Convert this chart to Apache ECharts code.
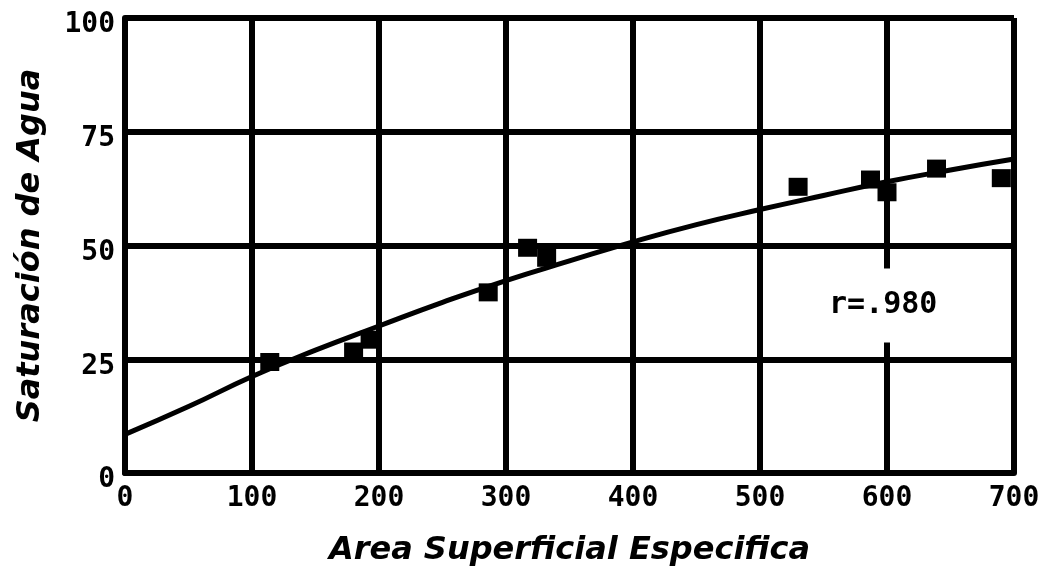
<!DOCTYPE html>
<html><head><meta charset="utf-8">
<script src="https://cdn.jsdelivr.net/npm/echarts@6/dist/echarts.min.js"></script>
<style>html,body{margin:0;padding:0;background:#fff}#c{width:1050px;height:567px}</style>
</head><body><div id="c"></div>
<script>
// tick values
const xTicks = [0, 100, 200, 300, 400, 500, 600, 700];
const yTicks = [0, 25, 50, 75, 100];
// measured points (Area Superficial Especifica, Saturación de Agua)
const pointsX = [114, 180, 193, 286, 317, 332, 530, 587, 600, 639, 690];
const pointsY = [24.4, 26.7, 29.3, 39.7, 49.5, 47.3, 62.9, 64.5, 61.7, 66.9, 64.8];
// fitted curve
const fitX = [0, 50, 100, 150, 200, 250, 300, 350, 400, 450, 500, 550, 600, 650, 700];
const fitY = [8.5, 14.6, 21.2, 27.0, 32.3, 37.5, 42.3, 46.6, 50.8, 54.6, 57.9, 61.0, 64.0, 66.6, 69.0];
// annotation
const noteText = 'r=.980';
const noteX = 597;
const noteY = 36.8;

const chart = echarts.init(document.getElementById('c'), null, {renderer: 'canvas'});
const tickFont = {fontFamily: 'DejaVu Sans Mono', fontWeight: 'bold', fontSize: 28, color: '#000'};
const titleFont = {fontFamily: 'DejaVu Sans', fontWeight: 'bold', fontStyle: 'italic', fontSize: 32, color: '#000'};
const gridLine = {lineStyle: {color: '#000', width: 6}};

chart.setOption({
  backgroundColor: '#fff',
  animation: false,
  grid: {left: 125, right: 36, top: 18, bottom: 94, containLabel: false, outerBoundsMode: 'none'},
  xAxis: {
    type: 'value', min: xTicks[0], max: xTicks[xTicks.length - 1], interval: xTicks[1] - xTicks[0],
    axisLine: {show: true, lineStyle: {color: '#000', width: 6}},
    axisTick: {show: false},
    splitLine: Object.assign({show: true}, gridLine),
    axisLabel: Object.assign({margin: 12}, tickFont),
    name: 'Area Superficial Especifica', nameLocation: 'middle', nameGap: 62,
    nameTextStyle: titleFont
  },
  yAxis: {
    type: 'value', min: yTicks[0], max: yTicks[yTicks.length - 1], interval: yTicks[1] - yTicks[0],
    axisLine: {show: true, lineStyle: {color: '#000', width: 6}},
    axisTick: {show: false},
    splitLine: Object.assign({show: true}, gridLine),
    axisLabel: Object.assign({margin: 10, verticalAlign: 'top', lineHeight: 14}, tickFont),
    name: 'Saturación de Agua', nameLocation: 'middle', nameGap: 78,
    nameTextStyle: titleFont
  },
  series: [
    {
      type: 'line', data: fitX.map((x, i) => [x, fitY[i]]), smooth: true,
      showSymbol: false, lineStyle: {color: '#000', width: 5}, z: 3
    },
    {
      type: 'scatter', data: pointsX.map((x, i) => [x, pointsY[i]]),
      symbol: 'rect', symbolSize: [19, 18], itemStyle: {color: '#000', opacity: 1}, z: 4
    },
    {
      type: 'scatter', data: [[noteX, noteY]], symbolSize: 0, z: 5,
      itemStyle: {opacity: 1},
      label: {
        show: true, position: 'inside', formatter: noteText,
        fontFamily: 'DejaVu Sans Mono', fontWeight: 'bold', fontSize: 30, color: '#000',
        backgroundColor: '#fff', padding: [22, 20], opacity: 1
      }
    }
  ]
});
</script></body></html>
